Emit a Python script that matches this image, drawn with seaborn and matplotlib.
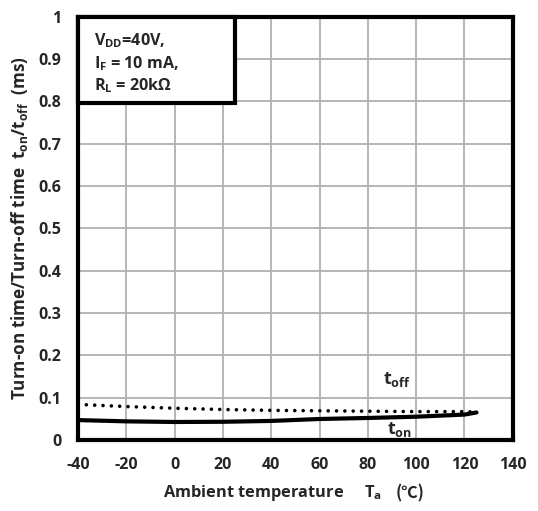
import matplotlib
matplotlib.use("Agg")
import matplotlib.pyplot as plt
from matplotlib.patches import Rectangle
import seaborn as sns
import pandas as pd

temp = [-40, -20, 0, 20, 40, 60, 80, 100, 120, 125]
t_off = [0.084, 0.079, 0.075, 0.072, 0.070, 0.069, 0.068, 0.067, 0.067, 0.066]
t_on = [0.047, 0.044, 0.0425, 0.043, 0.045, 0.0496, 0.052, 0.055, 0.060, 0.065]
x_ticks = [-40, -20, 0, 20, 40, 60, 80, 100, 120, 140]
y_ticks = [0, 0.1, 0.2, 0.3, 0.4, 0.5, 0.6, 0.7, 0.8, 0.9, 1]
y_tick_labels = ["0", "0.1", "0.2", "0.3", "0.4", "0.5", "0.6", "0.7", "0.8", "0.9", "1"]
box_lines = ["V$_{DD}$=40V,", "I$_{F}$ = 10 mA,", "R$_{L}$ = 20kΩ"]

df = pd.DataFrame({"temp": temp, "t_off": t_off, "t_on": t_on})

sns.set_style("white")
plt.rcParams['font.family'] = ['Open Sans', 'DejaVu Sans']
plt.rcParams['font.weight'] = 'bold'
plt.rcParams['axes.unicode_minus'] = False
plt.rcParams['mathtext.fontset'] = 'custom'
plt.rcParams['mathtext.bf'] = 'Open Sans:bold'
plt.rcParams['mathtext.rm'] = 'Open Sans:bold'
plt.rcParams['mathtext.default'] = 'bf'

fig = plt.figure(figsize=(5.38, 5.11), dpi=100)
ax = fig.add_axes([0.145, 0.139, 0.808, 0.828])

sns.lineplot(data=df, x="temp", y="t_off", ax=ax, color="black", lw=2.6,
             linestyle=(0, (0.01, 2.3)), dash_capstyle="round")
sns.lineplot(data=df, x="temp", y="t_on", ax=ax, color="black", lw=3)

ax.set_xlim(-40, 140)
ax.set_ylim(0, 1)
ax.set_xticks(x_ticks)
ax.set_xticklabels([str(v) for v in x_ticks])
ax.set_yticks(y_ticks)
ax.set_yticklabels(y_tick_labels)
ax.grid(True, color="#b0b0b0", lw=1.3)
ax.set_axisbelow(True)
for s in ax.spines.values():
    s.set_color("black")
    s.set_linewidth(3)
ax.tick_params(axis="both", labelsize=11.5, length=0)
ax.tick_params(axis="x", pad=12)
ax.tick_params(axis="y", pad=12)
for lab in ax.get_xticklabels() + ax.get_yticklabels():
    lab.set_fontweight("bold")

ax.set_xlabel("")
ax.set_ylabel(r"Turn-on time/Turn-off time  t$_{on}$/t$_{off}$  (ms)", fontsize=12.3,
              fontweight="bold", labelpad=6)

xl = fig.text(0.303, 0.028, r"Ambient temperature     T$_{a}$", fontsize=11.8,
              fontweight="bold", ha="left", va="baseline")
ax.annotate("(℃)", xy=(1, 0), xycoords=xl, xytext=(10, 0), textcoords="offset points",
            fontsize=11.8, fontweight="bold", ha="left", va="bottom",
            family=["Noto Sans CJK JP", "DejaVu Sans"])

ax.text(92, 0.142, r"t$_{off}$", fontsize=13, fontweight="bold", ha="center", va="center")
ax.text(93, 0.024, r"t$_{on}$", fontsize=13, fontweight="bold", ha="center", va="center")

ax.add_patch(Rectangle((0, 0.797), 0.361, 0.203, transform=ax.transAxes, fc="white",
                       ec="black", lw=3, zorder=5, clip_on=False))
for line, yy in zip(box_lines, [0.943, 0.889, 0.837]):
    ax.text(0.036, yy, line, transform=ax.transAxes, fontsize=11.6, fontweight="bold",
            va="center", ha="left", zorder=6)

fig.savefig("out.png", dpi=100)
